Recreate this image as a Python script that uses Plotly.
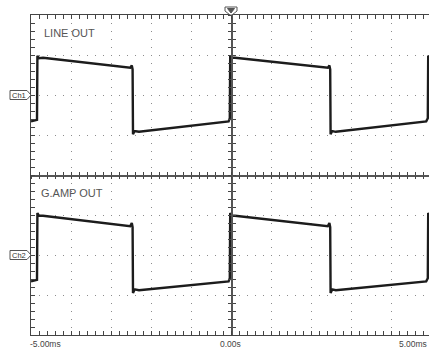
import plotly.graph_objects as go

# ---- data (time in ms, amplitude in screen divisions relative to each channel reference) ----
t_ms = [-5.00, -4.85, -4.84, -4.80, -4.70, -2.52, -2.48, -2.46, -2.45, -2.41, -2.30,
        -0.06, -0.03, -0.02, 0.02, 0.10, 2.42, 2.46, 2.48, 2.49, 2.53, 2.62,
        4.88, 4.92, 4.93, 4.97]
line_out_div = [-0.66, -0.62, 0.98, 0.92, 0.93, 0.68, 0.74, 0.64, -0.98, -0.90, -0.92,
                -0.66, -0.58, 0.98, 0.93, 0.93, 0.68, 0.74, 0.64, -0.98, -0.90, -0.92,
                -0.66, -0.58, 0.98, 0.93]
gamp_out_div = [-0.66, -0.62, 1.05, 0.98, 0.98, 0.72, 0.80, 0.70, -0.95, -0.86, -0.88,
                -0.66, -0.58, 1.05, 0.98, 0.98, 0.72, 0.80, 0.70, -0.95, -0.86, -0.88,
                -0.66, -0.58, 1.05, 0.98]
channel_refs_div = [2.0, -2.0]
channel_tags = ["Ch1", "Ch2"]
channel_names = ["LINE OUT", "G.AMP OUT"]
x_tick_values = [-5.0, 0.0, 5.0]
x_tick_labels = ["-5.00ms", "0.00s", "5.00ms"]

W, H = 429, 351
L, T, B = 31, 15, 16
DIV_PX = 40.0
x_min = -5.0
x_max = x_min + (W - L) / DIV_PX
y_min, y_max = -4.0, 4.0

TRACE = "#1c1c1c"
AX = "#444444"
GRID = "#8c8c8c"

fig = go.Figure()
for vals, ref in zip([line_out_div, gamp_out_div], channel_refs_div):
    fig.add_trace(go.Scatter(x=t_ms, y=[v + ref for v in vals], mode="lines",
                             line=dict(color=TRACE, width=2.4), hoverinfo="skip",
                             showlegend=False))
# anchors for the centre-crosshair axes
for xa, ya in [("x2", "y"), ("x3", "y"), ("x", "y2"), ("x", "y3")]:
    fig.add_trace(go.Scatter(x=[], y=[], xaxis=xa, yaxis=ya, showlegend=False, hoverinfo="skip"))

base_x = dict(range=[x_min, x_max], showticklabels=False, zeroline=False, fixedrange=True)
base_y = dict(range=[y_min, y_max], showticklabels=False, zeroline=False, fixedrange=True)

x_center_frac = (0 - x_min) / (x_max - x_min)

fig.update_layout(
    width=W, height=H,
    margin=dict(l=L, r=0, t=T, b=B, pad=0, autoexpand=False),
    paper_bgcolor="white", plot_bgcolor="white",
    xaxis=dict(**base_x, showline=True, linecolor=AX, linewidth=1, mirror="ticks",
               ticks="inside", ticklen=4, tickcolor=AX, tickwidth=1, tick0=0, dtick=1,
               showgrid=True, gridcolor=GRID, gridwidth=1, griddash="1px,7px",
               minor=dict(ticks="inside", ticklen=4, tickcolor=AX, tick0=0, dtick=0.2, showgrid=False)),
    yaxis=dict(**base_y, showline=True, linecolor=AX, linewidth=1, mirror=False,
               ticks="inside", ticklen=4, tickcolor=AX, tickwidth=1, tick0=0, dtick=1,
               showgrid=True, gridcolor=GRID, gridwidth=1, griddash="1px,7px",
               minor=dict(ticks="inside", ticklen=4, tickcolor=AX, tick0=0, dtick=0.2, showgrid=False)),
    xaxis2=dict(**base_x, overlaying="x", anchor="free", position=0.5, showline=True,
                linecolor="#555555", linewidth=1.5, ticks="inside", ticklen=3, tickcolor=AX,
                tick0=0, dtick=1, showgrid=False,
                minor=dict(ticks="inside", ticklen=3, tickcolor=AX, tick0=0, dtick=0.2)),
    xaxis3=dict(**base_x, overlaying="x", anchor="free", position=0.5, showline=False,
                ticks="outside", ticklen=3, tickcolor=AX, tick0=0, dtick=1, showgrid=False,
                minor=dict(ticks="outside", ticklen=3, tickcolor=AX, tick0=0, dtick=0.2)),
    yaxis2=dict(**base_y, overlaying="y", anchor="free", position=x_center_frac, showline=True,
                linecolor="#555555", linewidth=1.5, ticks="inside", ticklen=3, tickcolor=AX,
                tick0=0, dtick=1, showgrid=False,
                minor=dict(ticks="inside", ticklen=3, tickcolor=AX, tick0=0, dtick=0.2)),
    yaxis3=dict(**base_y, overlaying="y", anchor="free", position=x_center_frac, showline=False,
                ticks="outside", ticklen=3, tickcolor=AX, tick0=0, dtick=1, showgrid=False,
                minor=dict(ticks="outside", ticklen=3, tickcolor=AX, tick0=0, dtick=0.2)),
)

# channel names
name_pos = [(-4.72, 3.55), (-4.80, -0.45)]
for name, (nx, ny) in zip(channel_names, name_pos):
    fig.add_annotation(x=nx, y=ny, xref="x", yref="y", text=name, showarrow=False,
                       xanchor="left", yanchor="middle",
                       font=dict(family="Liberation Sans, Arial, sans-serif", size=11, color="#555555"))

# bottom time labels
anchors = ["left", "center", "right"]
for val, lab, anc in zip(x_tick_values, x_tick_labels, anchors):
    if anc == "right":
        fig.add_annotation(x=1, xref="paper", y=0, yref="paper", text=lab, showarrow=False,
                           xanchor="right", yanchor="middle", yshift=-9,
                           font=dict(family="Liberation Sans, Arial, sans-serif", size=8.5, color="#444444"))
    else:
        fig.add_annotation(x=val, xref="x", y=0, yref="paper", text=lab, showarrow=False,
                           xanchor=anc, yanchor="middle", yshift=-9, xshift=-3 if anc == "left" else -1,
                           font=dict(family="Liberation Sans, Arial, sans-serif", size=8.5, color="#444444"))

# channel reference markers
for tag, ref in zip(channel_tags, channel_refs_div):
    yfrac = (ref - y_min) / (y_max - y_min)
    fig.add_shape(type="path", xref="paper", yref="paper", xsizemode="pixel", ysizemode="pixel",
                  xanchor=0, yanchor=yfrac,
                  path="M-21,-4.5 L-4,-4.5 L0,0 L-4,4.5 L-21,4.5 Z",
                  line=dict(color="#555555", width=1), fillcolor="white", layer="above")
    fig.add_annotation(x=0, xref="paper", y=yfrac, yref="paper", text=tag, showarrow=False,
                       xanchor="center", yanchor="middle", xshift=-12.5,
                       font=dict(family="Liberation Sans, Arial, sans-serif", size=7.5, color="#333333"))

# trigger position marker at top
fig.add_shape(type="path", xref="paper", yref="paper", xsizemode="pixel", ysizemode="pixel",
              xanchor=x_center_frac, yanchor=1,
              path="M-6,8 L6,8 L6,4 L1,0 L-1,0 L-6,4 Z",
              line=dict(color="#555555", width=1), fillcolor="white", layer="above")
fig.add_shape(type="path", xref="paper", yref="paper", xsizemode="pixel", ysizemode="pixel",
              xanchor=x_center_frac, yanchor=1,
              path="M-3.5,6.5 L3.5,6.5 L0,2 Z",
              line=dict(color="#555555", width=1), fillcolor="#555555", layer="above")

fig.write_html("out.html", config={"displayModeBar": False, "staticPlot": True},
               post_script="document.body.style.margin='0';document.body.style.padding='0';"
                           "document.body.style.overflow='hidden';")
